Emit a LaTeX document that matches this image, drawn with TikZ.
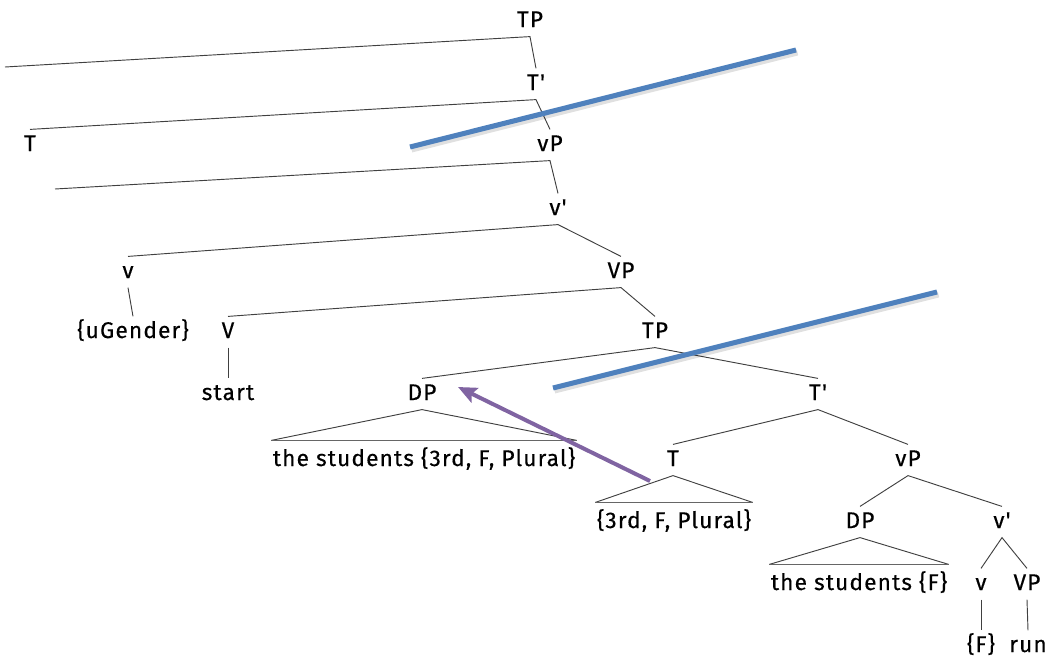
\documentclass[tikz,border=0pt]{standalone}
\usepackage{fontspec}
\setmainfont{Fira Sans}[Ligatures=TeXOff,LetterSpace=5,FakeBold=0.4]
\usetikzlibrary{arrows.meta}
\definecolor{hlblue}{HTML}{4F81BD}
\definecolor{hlpurple}{HTML}{8064A2}
\begin{document}
\begin{tikzpicture}[x=0.75pt,y=-0.75pt,
  lab/.style={anchor=base,inner xsep=1pt,inner ysep=4pt,text height=12pt,text depth=3pt,font=\fontsize{17}{20}\selectfont},
  br/.style={line width=0.7pt,draw=black!75},
  basel/.style={line width=1pt,draw=black!60},
  hl/.style={line width=3.8pt,line cap=butt},
  shadow/.style={line width=4.5pt,draw=black,opacity=0.12}]
\useasboundingbox (0,0) rectangle (1050,657);
% labels
\node[lab] (TP0) at (530,27) {TP};
\node[lab] (Tb1) at (536,90) {T'};
\node[lab] (T1) at (30,151) {T};
\node[lab] (vP1) at (550,151) {vP};
\node[lab] (vb1) at (558,215) {v'};
\node[lab] (v1) at (128,278) {v};
\node[lab] (VP1) at (621,278) {VP};
\node[lab] (uG) at (133,338) {\{uGender\}};
\node[lab] (V1) at (228,338) {V};
\node[lab] (TP2) at (655,338) {TP};
\node[lab] (start) at (228,400) {start};
\node[lab] (DP1) at (422,400) {DP};
\node[lab] (Tb2) at (818,400) {T'};
\node[lab] (stud1) at (424,466) {the students \{3rd, F, Plural\}};
\node[lab] (T2) at (673,466) {T};
\node[lab] (vP2) at (908,466) {vP};
\node[lab] (feat) at (674,528) {\{3rd, F, Plural\}};
\node[lab] (DP2) at (860,528) {DP};
\node[lab] (vb2) at (1002,528) {v'};
\node[lab] (stud2) at (859,590) {the students \{F\}};
\node[lab] (v2) at (981,590) {v};
\node[lab] (VP2) at (1027,590) {VP};
\node[lab] (F) at (981,652) {\{F\}};
\node[lab] (run) at (1028,652) {run};
\coordinate (L0) at (5,67);
\coordinate (L2) at (55,189);
% branches
\draw[br] (L0) -- (TP0.south) -- (Tb1.north);
\draw[br] (T1.north) -- (Tb1.south) -- (vP1.north);
\draw[br] (L2) -- (vP1.south) -- (vb1.north);
\draw[br] (v1.north) -- (vb1.south) -- (VP1.north);
\draw[br] (v1.south) -- (uG.north);
\draw[br] (V1.north) -- (VP1.south) -- (TP2.north);
\draw[br] (V1.south) -- (start.north);
\draw[br] (DP1.north) -- (TP2.south) -- (Tb2.north);
\draw[br] ([yshift=3pt]stud1.north west) -- (DP1.south) -- ([yshift=3pt]stud1.north east);
\draw[basel] ([yshift=3pt]stud1.north west) -- ([yshift=3pt]stud1.north east);
\draw[br] (T2.north) -- (Tb2.south) -- (vP2.north);
\draw[br] ([yshift=3pt]feat.north west) -- (T2.south) -- ([yshift=3pt]feat.north east);
\draw[basel] ([yshift=3pt]feat.north west) -- ([yshift=3pt]feat.north east);
\draw[br] (DP2.north) -- (vP2.south) -- (vb2.north);
\draw[br] ([yshift=3pt]stud2.north west) -- (DP2.south) -- ([yshift=3pt]stud2.north east);
\draw[basel] ([yshift=3pt]stud2.north west) -- ([yshift=3pt]stud2.north east);
\draw[br] (v2.north) -- (vb2.south) -- (VP2.north);
\draw[br] (v2.south) -- (F.north);
\draw[br] (VP2.south) -- (run.north);
% highlight strokes
\coordinate (B1s) at (410,147);
\coordinate (B1e) at (796,50);
\coordinate (B2s) at (553,388);
\coordinate (B2e) at (937,292);
\coordinate (ArrS) at (650,481);
\coordinate (ArrE) at (458,387);
\draw[shadow] ([shift={(1.5,2.5)}]B1s) -- ([shift={(1.5,2.5)}]B1e);
\draw[shadow] ([shift={(1.5,2.5)}]B2s) -- ([shift={(1.5,2.5)}]B2e);
\draw[hl,draw=hlblue] (B1s) -- (B1e);
\draw[hl,draw=hlblue] (B2s) -- (B2e);
\draw[line width=3pt,draw=hlpurple,-{Stealth[length=14pt,width=12pt,inset=2.5pt]}] (ArrS) -- (ArrE);
\end{tikzpicture}
\end{document}
